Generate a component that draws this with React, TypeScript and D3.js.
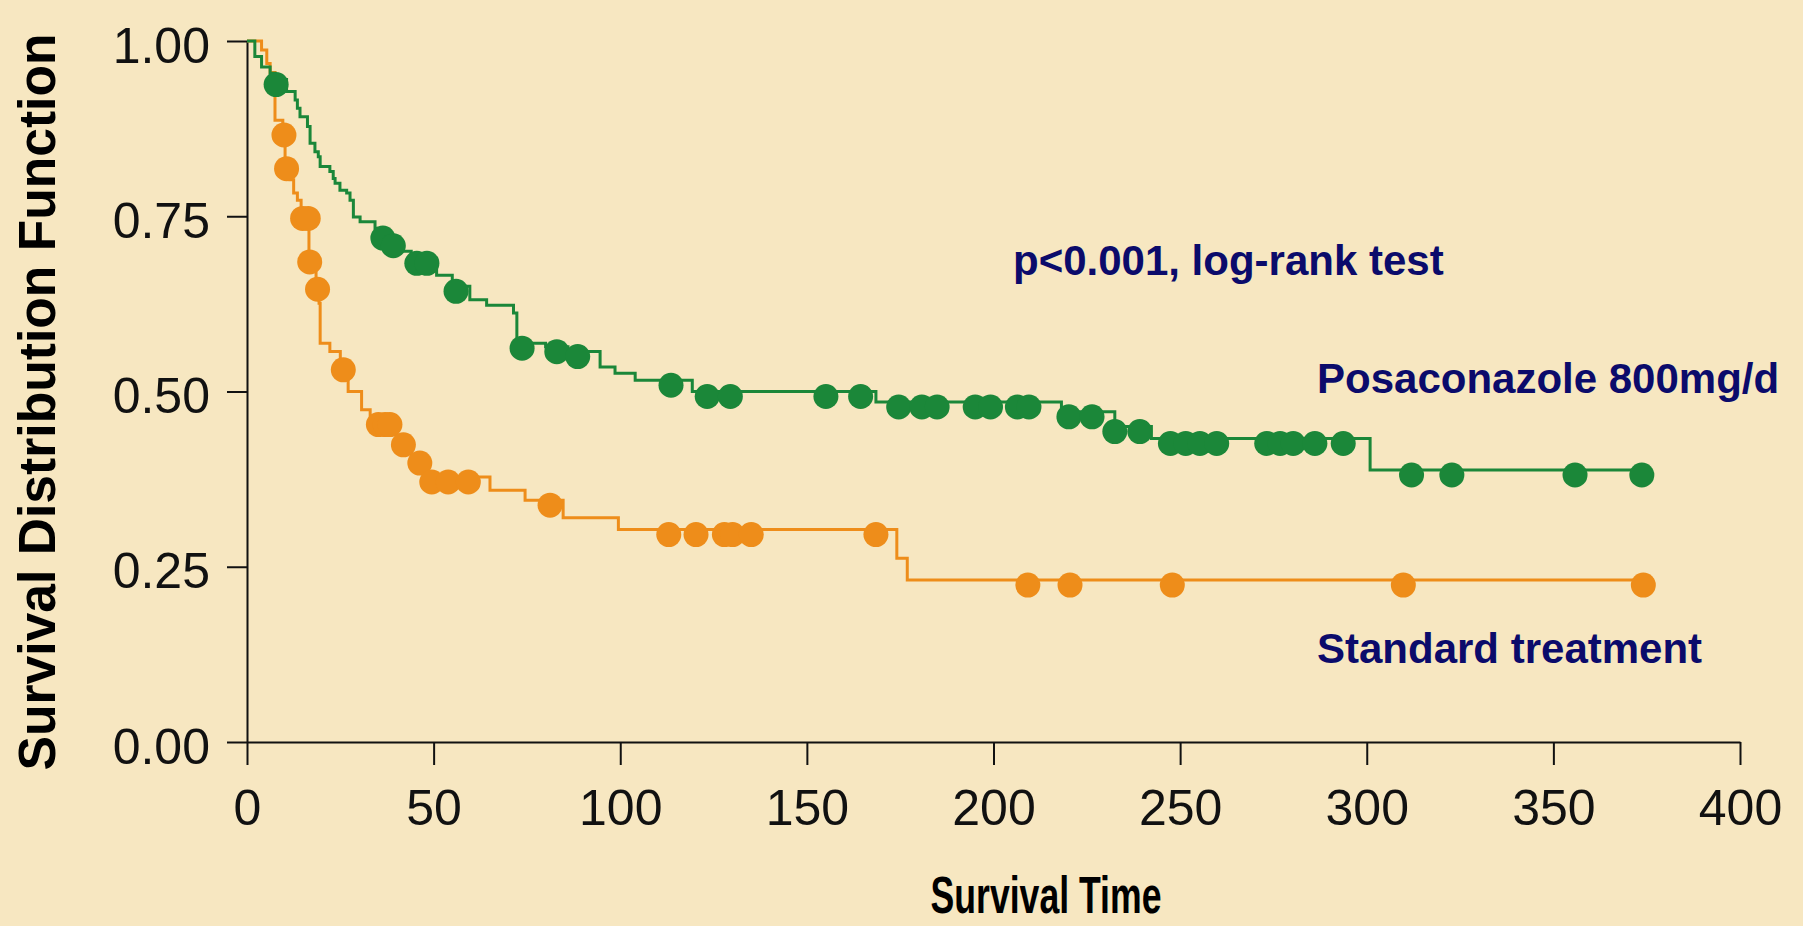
import React, { useEffect, useRef } from 'react';
import * as d3 from 'd3';

const W = 1803;
const H = 926;

// Posaconazole 800mg/d: times of each drop and the survival level after it
const posaTimes = [2.1, 3.9, 6.2, 7.5, 10.6, 12.9, 13.5, 14.2, 16.2, 16.9, 18.2, 19.1, 19.6, 22.2, 23.1, 23.6, 24.9, 26.7, 27.6, 28.5, 30.3, 34.3, 34.7, 37, 40, 44, 50.8, 55, 59.7, 64.2, 71.4, 72.3, 80, 86, 94.6, 98.6, 104, 119.3, 168.5, 218.2, 232.5, 242.3, 300.9];
const posaSurv = [0.978, 0.963, 0.954, 0.945, 0.928, 0.916, 0.904, 0.892, 0.878, 0.854, 0.842, 0.835, 0.821, 0.814, 0.804, 0.797, 0.787, 0.783, 0.773, 0.749, 0.742, 0.733, 0.726, 0.715, 0.7, 0.69, 0.666, 0.65, 0.631, 0.623, 0.612, 0.569, 0.564, 0.557, 0.535, 0.526, 0.516, 0.5, 0.485, 0.471, 0.45, 0.433, 0.388];
const posaCensored = [7.8, 36.4, 39.2, 45.5, 48.2, 56, 73.7, 83, 88.6, 113.6, 123.3, 129.5, 155.1, 164.4, 174.6, 180.8, 184.9, 195.1, 199.2, 206.4, 209.5, 220.2, 226.4, 232.5, 239.2, 247.4, 251.5, 255.3, 259.8, 273.2, 276.8, 280.3, 286.1, 293.7, 312, 322.8, 355.8, 373.7];

// Standard treatment
const stdTimes = [3.9, 5.3, 6.2, 7.5, 9.6, 10.2, 11.5, 12.5, 13.5, 14.5, 16.6, 18.5, 19.3, 19.6, 22.2, 25, 27.1, 30.7, 33, 40, 44, 48, 65.1, 74.5, 84.7, 99.5, 174.1, 176.9];
const stdSurv = [0.987, 0.968, 0.955, 0.887, 0.873, 0.825, 0.802, 0.783, 0.773, 0.754, 0.692, 0.653, 0.626, 0.569, 0.557, 0.538, 0.5, 0.474, 0.46, 0.431, 0.405, 0.378, 0.359, 0.345, 0.32, 0.303, 0.262, 0.231];
const stdCensored = [9.9, 10.6, 14.9, 16.4, 16.8, 18.9, 25.8, 35.2, 37, 38.3, 41.9, 46.3, 49.5, 53.9, 59.3, 81.2, 113, 120.3, 127.9, 130.1, 135.1, 168.5, 209.2, 220.5, 247.9, 309.8, 374.1];

const xTicks = [0, 50, 100, 150, 200, 250, 300, 350, 400];
const yTicks = [0, 0.25, 0.5, 0.75, 1];

const GREEN = '#1b8739';
const ORANGE = '#ee8d1a';
const NAVY = '#0b0b6b';
const FONT = '"Liberation Sans", Arial, Helvetica, sans-serif';

const Chart = () => {
  const svgRef = useRef(null);

  useEffect(() => {
    const svg = d3.select(svgRef.current);
    svg.selectAll('*').remove();

    svg.append('rect').attr('width', W).attr('height', H).attr('fill', '#f7e7c1');

    const x = d3.scaleLinear().domain([0, 400]).range([247, 1740]);
    const y = d3.scaleLinear().domain([0, 1]).range([742, 41]);

    // axes
    const gx = svg.append('g').attr('transform', `translate(0,${y(0)})`)
      .call(d3.axisBottom(x).tickValues(xTicks).tickSize(23).tickSizeOuter(0).tickPadding(24));
    const gy = svg.append('g').attr('transform', `translate(${x(0)},0)`)
      .call(d3.axisLeft(y).tickValues(yTicks).tickFormat(d3.format('.2f')).tickSize(20).tickSizeOuter(0).tickPadding(17));

    [gx, gy].forEach(g => {
      g.selectAll('path, line').attr('stroke', '#111').attr('stroke-width', 2);
      g.selectAll('text').attr('fill', '#111').style('font', `50px ${FONT}`);
    });
    gy.selectAll('text').attr('dy', '0.42em');

    svg.append('text')
      .attr('x', 1046).attr('y', 913)
      .attr('text-anchor', 'middle')
      .attr('textLength', 231).attr('lengthAdjust', 'spacingAndGlyphs')
      .style('font', `bold 52px ${FONT}`)
      .text('Survival Time');

    svg.append('text')
      .attr('transform', 'translate(55,402) rotate(-90)')
      .attr('text-anchor', 'middle')
      .attr('textLength', 737).attr('lengthAdjust', 'spacingAndGlyphs')
      .style('font', `bold 51px ${FONT}`)
      .text('Survival Distribution Function');

    const curves = [
      { times: stdTimes, surv: stdSurv, cens: stdCensored, color: ORANGE },
      { times: posaTimes, surv: posaSurv, cens: posaCensored, color: GREEN }
    ];

    const line = d3.line().x(d => x(d[0])).y(d => y(d[1])).curve(d3.curveStepAfter);

    curves.forEach(c => {
      const end = d3.max(c.cens);
      const pts = [[0, 1], ...c.times.map((t, i) => [t, c.surv[i]]), [end, c.surv[c.surv.length - 1]]];
      const survAt = t => {
        let s = 1;
        c.times.forEach((tt, i) => { if (tt <= t) s = c.surv[i]; });
        return s;
      };

      svg.append('path')
        .attr('d', line(pts))
        .attr('fill', 'none')
        .attr('stroke', c.color)
        .attr('stroke-width', 3);

      // censored marks sit a little below the step line, as in the source
      svg.append('g')
        .selectAll('circle')
        .data(c.cens)
        .join('circle')
        .attr('cx', d => x(d))
        .attr('cy', d => y(survAt(d)) + 5)
        .attr('r', 12.5)
        .attr('fill', c.color);
    });

    // annotations
    const notes = [
      { text: 'p<0.001, log-rank test', x: 1013, y: 275 },
      { text: 'Posaconazole 800mg/d', x: 1317, y: 393 },
      { text: 'Standard treatment', x: 1317, y: 663 }
    ];
    svg.append('g')
      .selectAll('text')
      .data(notes)
      .join('text')
      .attr('x', d => d.x)
      .attr('y', d => d.y)
      .attr('fill', NAVY)
      .style('font', `bold 42px ${FONT}`)
      .text(d => d.text);
  }, []);

  return <svg ref={svgRef} width={W} height={H} style={{ position: 'absolute', left: 0, top: 0 }}></svg>;
};

export default function App() {
  return <Chart />;
}
